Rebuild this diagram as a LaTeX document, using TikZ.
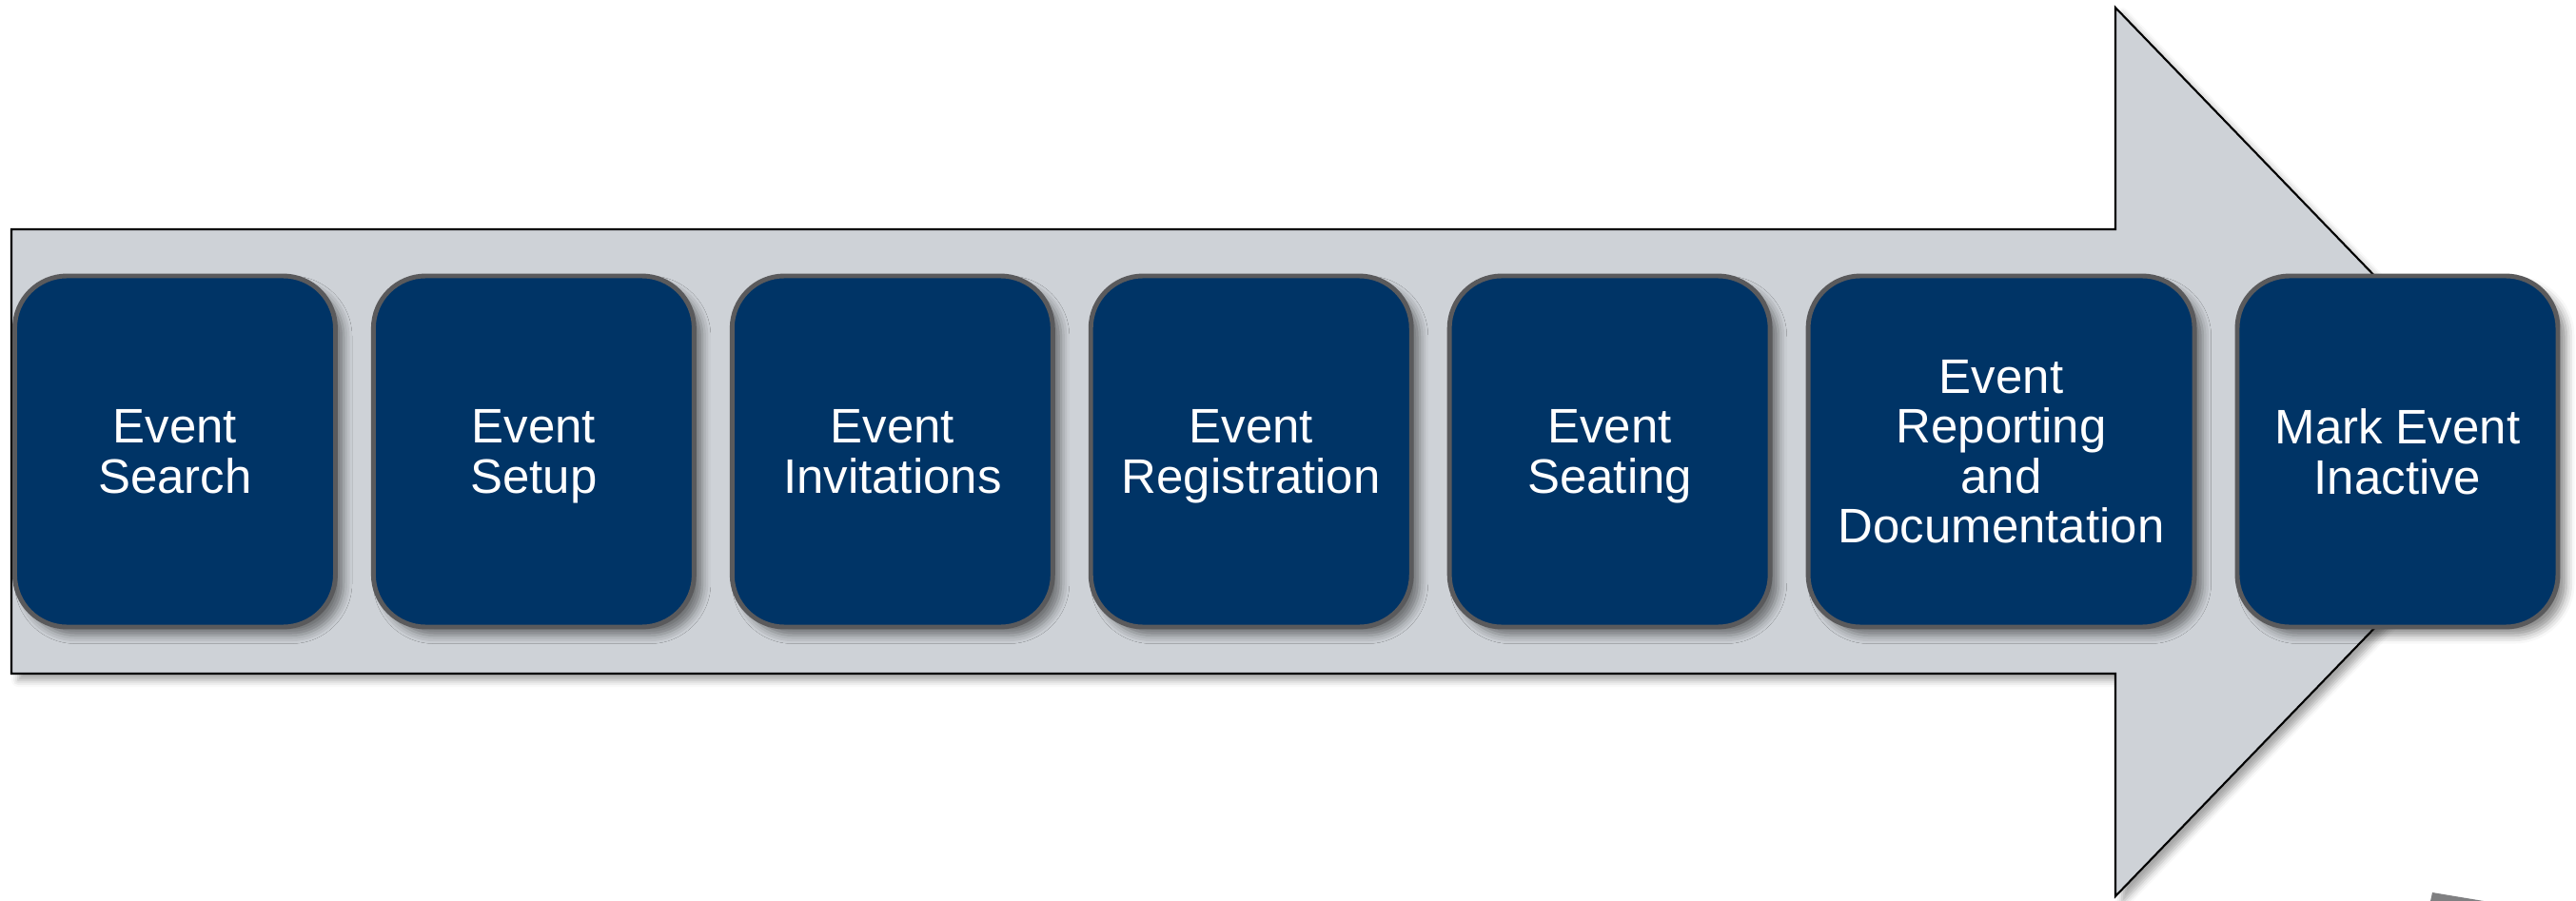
\documentclass[tikz,border=0pt]{standalone}
\usepackage{fontspec}
\setmainfont{Liberation Sans}
\usepackage{tikz}
\usetikzlibrary{positioning,shadows.blur}
\definecolor{navy}{RGB}{0,52,102}
\definecolor{rimgray}{RGB}{90,90,92}
\definecolor{shaftgray}{RGB}{206,210,215}
\definecolor{fraggray}{RGB}{128,128,130}

\begin{document}
\begin{tikzpicture}[
  node distance=0.35cm,
  stage/.style={draw=rimgray, line width=1.4pt, rounded corners=0.55cm, fill=navy,
    text=white, align=center, minimum width=3.37cm, minimum height=3.69cm,
    inner sep=2pt, text depth=0pt, font=\fontsize{14.5pt}{14.9pt}\selectfont,
    blur shadow={shadow xshift=2.5pt, shadow yshift=-2.5pt, shadow blur radius=2.5pt, shadow opacity=45}},
  bigarrow/.style={draw=black, line width=0.6pt, fill=shaftgray,
    blur shadow={shadow xshift=2pt, shadow yshift=-2pt, shadow blur radius=2pt, shadow opacity=35}}
]
\useasboundingbox (0,0) rectangle (27.07,-9.47);
\path[bigarrow] (0.12,-2.41) -- (22.23,-2.41) -- (22.23,-0.08) -- (26.74,-4.75)
  -- (22.23,-9.42) -- (22.23,-7.08) -- (0.12,-7.08) -- cycle;
\fill[fraggray] (25.56,-9.38) -- (26.10,-9.47) -- (25.54,-9.47) -- cycle;
\node[stage, anchor=west] (search) at (0.13,-4.745) {Event\\Search};
\node[stage, right=of search] (setup) {Event\\Setup};
\node[stage, right=of setup] (invite) {Event\\Invitations};
\node[stage, right=of invite] (register) {Event\\Registration};
\node[stage, right=of register] (seating) {Event\\Seating};
\node[stage, right=of seating, minimum width=4.06cm] (report) {Event\\Reporting\\and\\Documentation};
\node[stage, right=0.4cm of report] (inactive) {Mark Event\\Inactive};
\end{tikzpicture}
\end{document}
